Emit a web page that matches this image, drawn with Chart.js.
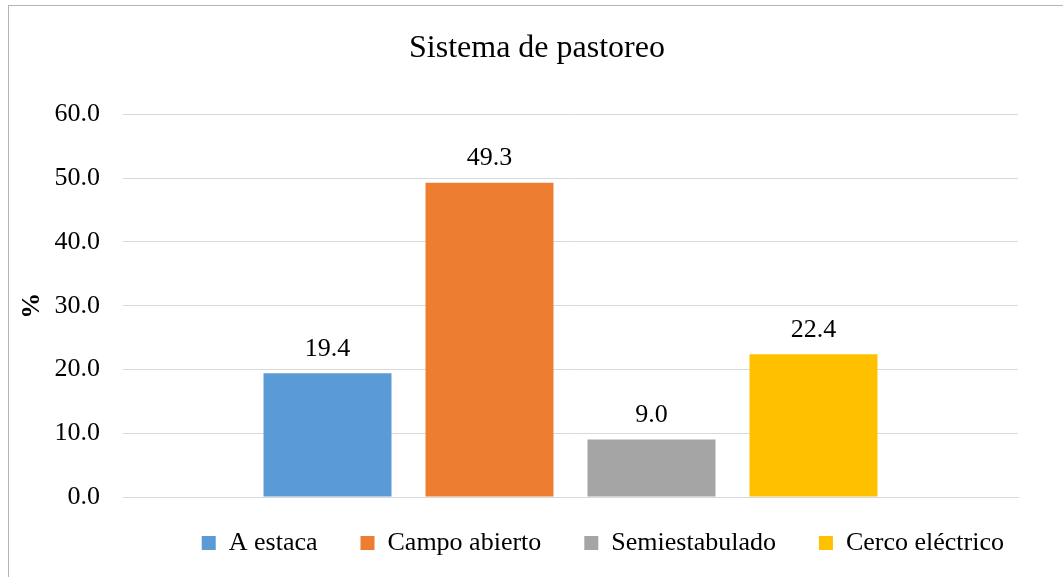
<!DOCTYPE html>
<html>
<head>
<meta charset="utf-8">
<script src="https://cdn.jsdelivr.net/npm/chart.js@4.4.1/dist/chart.umd.min.js"></script>
<style>
  html, body { margin: 0; padding: 0; background: #fff; }
  #wrap { position: relative; width: 1063px; height: 577px; overflow: hidden; }
  #frame { position: absolute; left: 8px; top: 5px; width: 1100px; height: 620px; border: 1px solid #b4b4b4; box-sizing: border-box; }
  canvas { position: absolute; left: 0; top: 0; }
</style>
</head>
<body>
<div id="wrap">
  <div id="frame"></div>
  <canvas id="chart" width="1063" height="577"></canvas>
</div>
<script>
// --- data ---
const categories = [''];
const seriesNames = ['A estaca', 'Campo abierto', 'Semiestabulado', 'Cerco eléctrico'];
const seriesValues = [19.4, 49.3, 9.0, 22.4];
const seriesColors = ['#5B9BD5', '#ED7D31', '#A5A5A5', '#FFC000'];
const yTicks = [0, 10, 20, 30, 40, 50, 60];

const FONT = "'Liberation Serif', 'Times New Roman', serif";

// one dataset per series, like Excel does
const datasets = seriesNames.map((name, i) => ({
    label: name,
    data: [seriesValues[i]],
    backgroundColor: seriesColors[i],
    borderWidth: 0,
    categoryPercentage: 0.724,
    barPercentage: 0.79
}));

// value labels above each bar
const valueLabels = {
    id: 'valueLabels',
    afterDatasetsDraw(chart) {
        const ctx = chart.ctx;
        ctx.save();
        ctx.font = '26px ' + FONT;
        ctx.fillStyle = '#000';
        ctx.textAlign = 'center';
        ctx.textBaseline = 'middle';
        chart.data.datasets.forEach((ds, i) => {
            const meta = chart.getDatasetMeta(i);
            meta.data.forEach((bar, j) => {
                ctx.fillText(ds.data[j].toFixed(1), bar.x, bar.y - 24);
            });
        });
        ctx.restore();
    }
};

// legend padding is used both ways in Chart.js; nudge the box so the wide
// horizontal spacing doesn't push it too far down. Title is centred on the
// whole frame in the original, not on the plot.
const boxNudge = {
    id: 'boxNudge',
    afterLayout(chart) {
        const lg = chart.legend;
        lg.top -= 10; lg.bottom -= 10;
        lg.left += 29; lg.right += 29;
        const tb = chart.titleBlock;
        tb.left += 24; tb.right += 24;
    }
};

new Chart(document.getElementById('chart'), {
    type: 'bar',
    data: { labels: categories, datasets: datasets },
    options: {
        responsive: false,
        animation: false,
        events: [],
        layout: { padding: { left: 8, right: 45, top: 0, bottom: 1 } },
        scales: {
            x: {
                grid: { display: false },
                border: { display: true, color: '#d9d9d9', width: 1 },
                ticks: { display: false },
                afterFit(scale) { scale.height = 0; }
            },
            y: {
                min: yTicks[0],
                max: yTicks[yTicks.length - 1],
                afterBuildTicks(scale) { scale.ticks = yTicks.map(v => ({ value: v })); },
                ticks: {
                    padding: 23,
                    color: '#000',
                    font: { family: FONT, size: 26 },
                    callback: v => Number(v).toFixed(1)
                },
                grid: { color: '#d9d9d9', lineWidth: 1, drawTicks: false },
                border: { display: false },
                title: {
                    display: true,
                    text: '%',
                    color: '#000',
                    font: { family: FONT, size: 26, weight: 'bold' },
                    padding: { top: 9, bottom: 0 }
                },
                afterFit(scale) { scale.width = 115; }
            }
        },
        plugins: {
            title: {
                display: true,
                text: 'Sistema de pastoreo',
                color: '#000',
                font: { family: FONT, size: 32, weight: 'normal' },
                padding: { top: 29, bottom: 47 }
            },
            legend: {
                position: 'bottom',
                align: 'end',
                labels: {
                    color: '#000',
                    font: { family: FONT, size: 26 },
                    boxWidth: 14,
                    boxHeight: 14,
                    padding: 43
                }
            },
            tooltip: { enabled: false }
        }
    },
    plugins: [valueLabels, boxNudge]
});
</script>
</body>
</html>
